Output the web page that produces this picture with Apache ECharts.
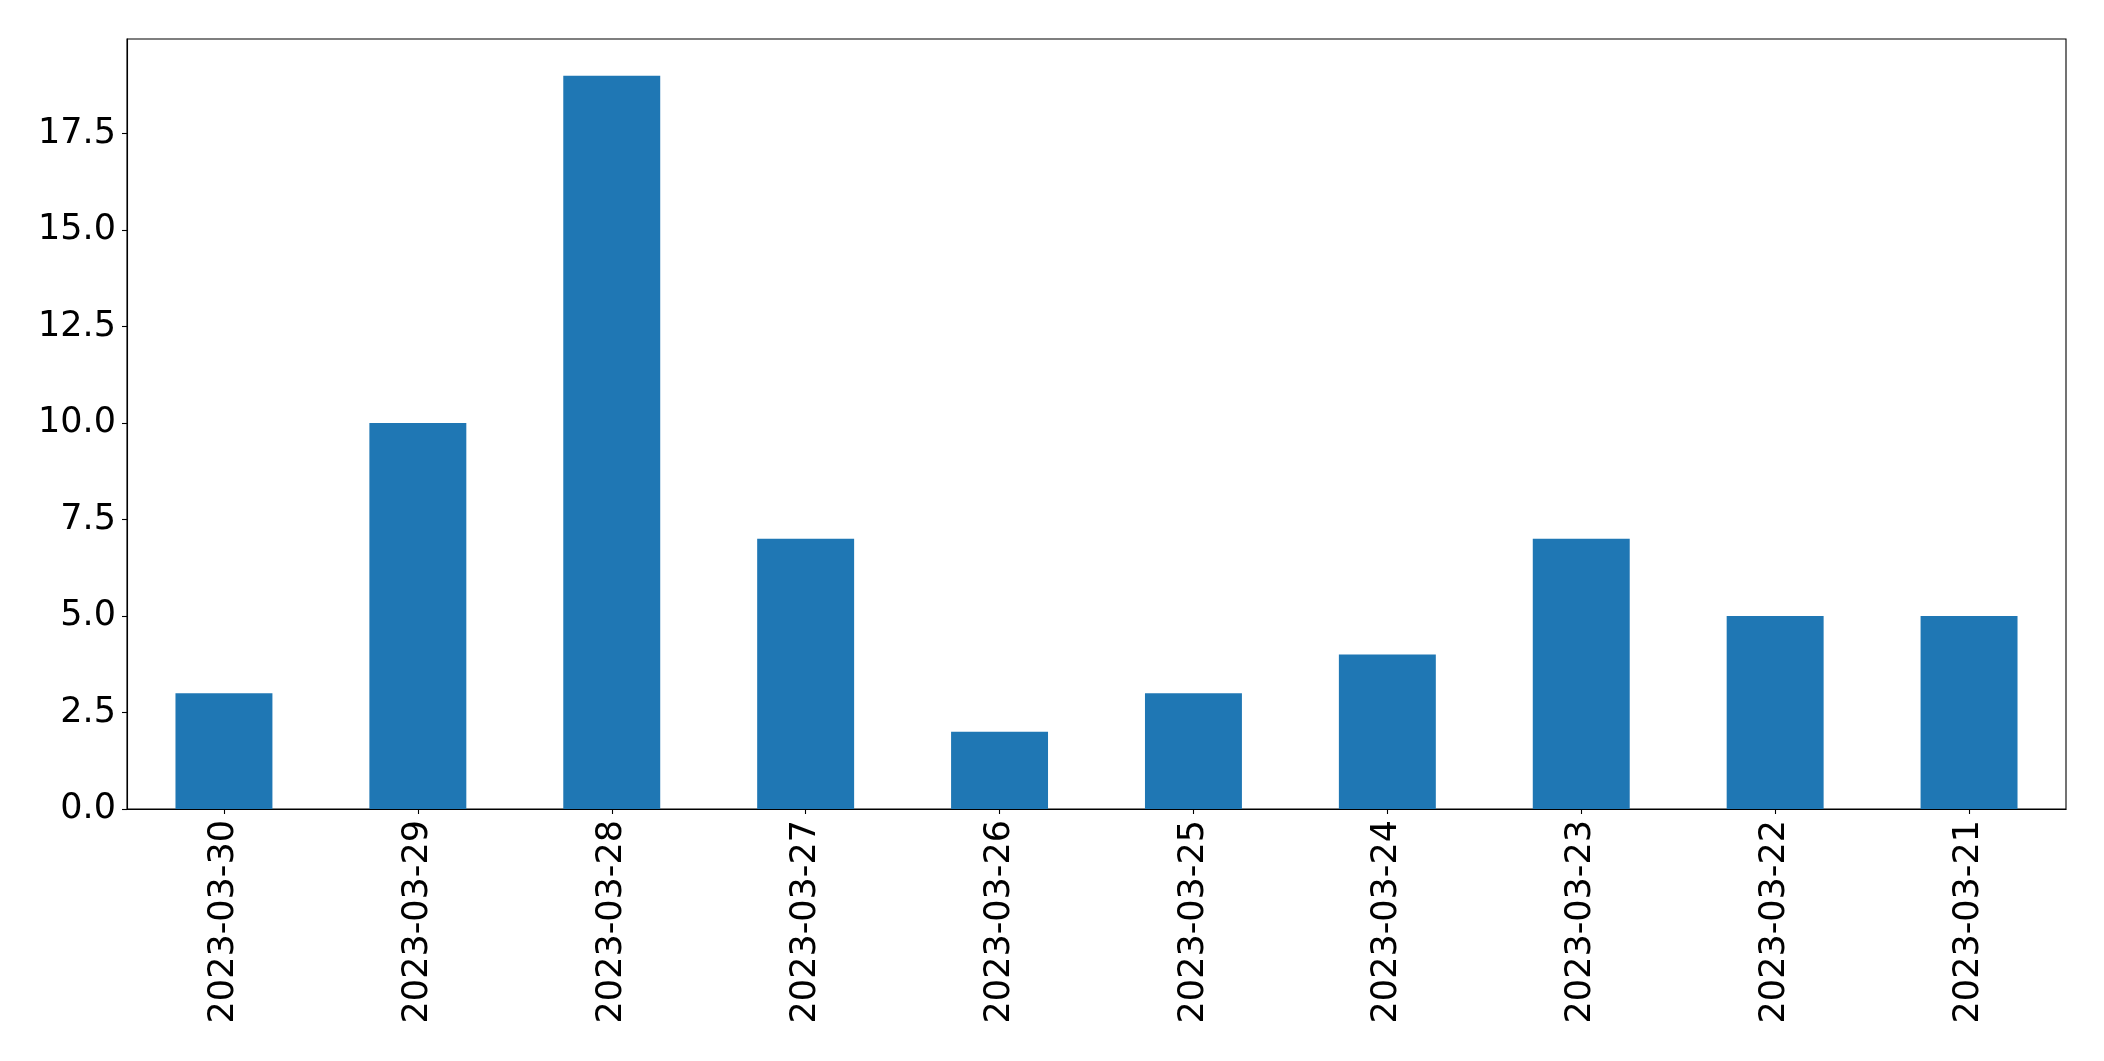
<!DOCTYPE html>
<html>
<head>
<meta charset="utf-8">
<script src="https://cdn.jsdelivr.net/npm/echarts@6/dist/echarts.min.js"></script>
<style>html,body{margin:0;padding:0;background:#fff;}#c{width:2104px;height:1061px;}</style>
</head>
<body>
<div id="c"></div>
<script>
const categories = ['2023-03-30','2023-03-29','2023-03-28','2023-03-27','2023-03-26','2023-03-25','2023-03-24','2023-03-23','2023-03-22','2023-03-21'];
const values = [3, 10, 19, 7, 2, 3, 4, 7, 5, 5];
const yMax = 19.95;
const yInterval = 2.5;

const chart = echarts.init(document.getElementById('c'), null, {renderer: 'canvas'});
const font = 'DejaVu Sans';
chart.setOption({
  animation: false,
  backgroundColor: '#ffffff',
  grid: {left: 127, right: 38, top: 39, bottom: 252, show: true, borderColor: '#000', borderWidth: 1.1, backgroundColor: 'transparent'},
  xAxis: {
    type: 'category',
    data: categories,
    boundaryGap: true,
    axisLine: {show: true, lineStyle: {color: '#000', width: 1.1}},
    axisTick: {show: true, alignWithLabel: true, length: 5, lineStyle: {color: '#000', width: 1.1}},
    axisLabel: {rotate: 90, fontFamily: font, fontSize: 35, color: '#000', margin: 11, interval: 0},
    splitLine: {show: false}
  },
  yAxis: {
    type: 'value',
    min: 0,
    max: yMax,
    interval: yInterval,
    axisLine: {show: true, lineStyle: {color: '#000', width: 1.1}},
    axisTick: {show: true, length: 5, lineStyle: {color: '#000', width: 1.1}},
    axisLabel: {
      fontFamily: font, fontSize: 35, color: '#000', margin: 11,
      showMaxLabel: false,
      formatter: function (v) {
        const r = v / yInterval;
        if (Math.abs(r - Math.round(r)) > 1e-6) return '';
        return v.toFixed(1);
      }
    },
    splitLine: {show: false}
  },
  series: [{
    type: 'bar',
    data: values,
    barWidth: '50%',
    itemStyle: {color: '#1f77b4'}
  }]
});
</script>
</body>
</html>
